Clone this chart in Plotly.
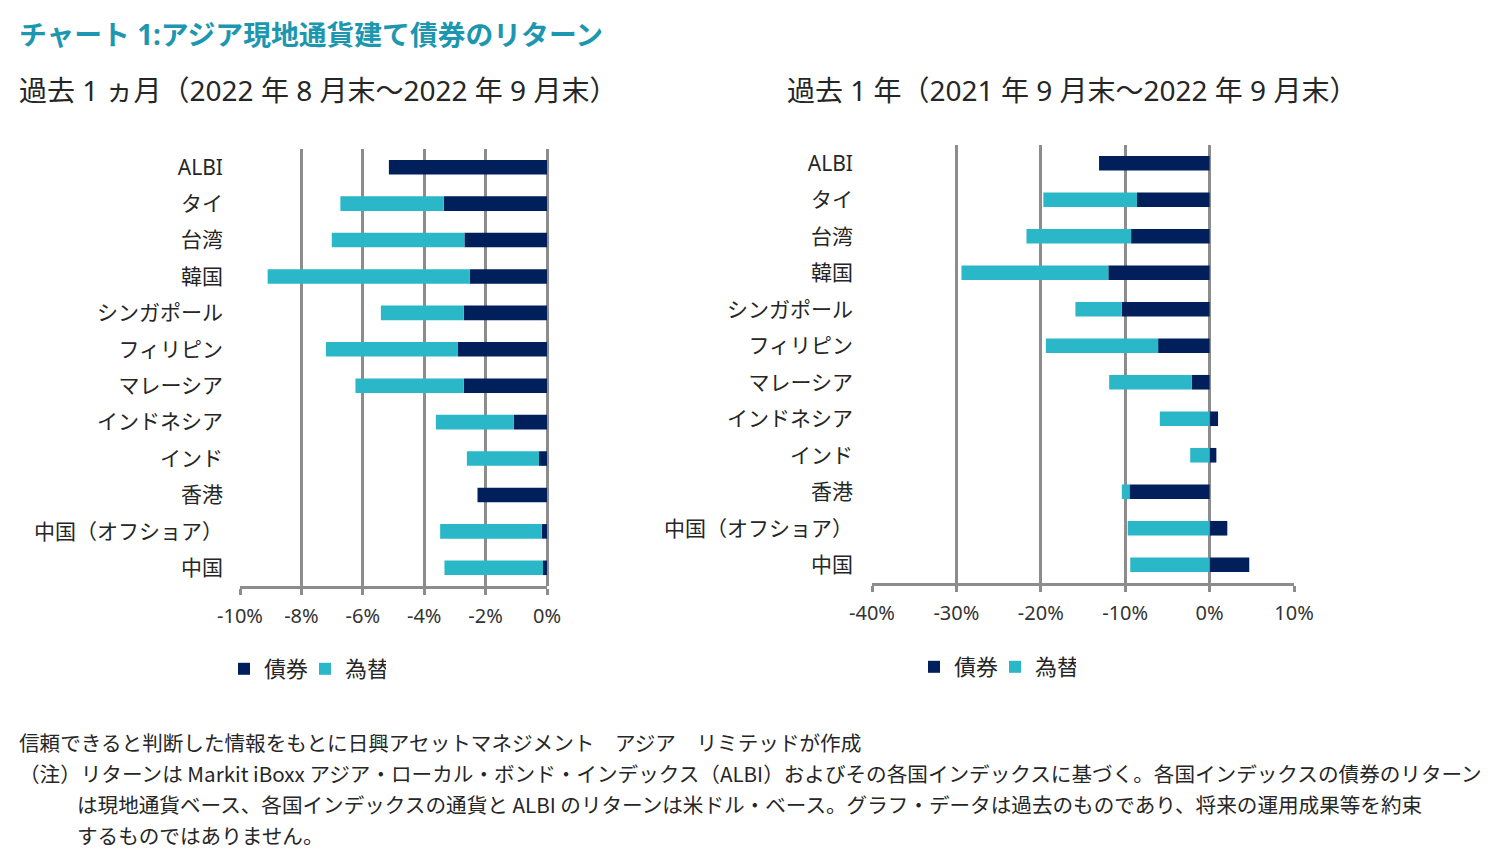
import plotly.graph_objects as go

W, H = 1509, 865

categories = ["ALBI", "タイ", "台湾", "韓国", "シンガポール", "フィリピン", "マレーシア",
              "インドネシア", "インド", "香港", "中国（オフショア）", "中国"]

# 過去1ヵ月 (%)
m1_bond = [-5.15, -3.36, -2.69, -2.52, -2.71, -2.90, -2.71, -1.08, -0.26, -2.25, -0.17, -0.13]
m1_fx = [0.0, -3.37, -4.32, -6.58, -2.70, -4.30, -3.53, -2.54, -2.35, -0.03, -3.31, -3.21]

# 過去1年 (%)
y1_bond = [-13.1, -8.6, -9.3, -12.0, -10.4, -6.1, -2.1, 1.0, 0.8, -9.5, 2.1, 4.7]
y1_fx = [0.0, -11.1, -12.4, -17.4, -5.5, -13.3, -9.8, -5.9, -2.3, -0.9, -9.7, -9.4]

m1_ticks = [-10, -8, -6, -4, -2, 0]
y1_ticks = [-40, -30, -20, -10, 0, 10]

BOND = "#011f5b"
FX = "#2ab7c8"
GRID = "#8c8c8c"
TEAL = "#1d97b0"
JP = "Noto Sans CJK JP"
LAT = "Noto Sans, Noto Sans CJK JP"
TXT = "#262626"

# plot-area positions in pixels
L = dict(x0=240, x1=547, y0=149, y1=586)
R = dict(x0=872, x1=1294, y0=145, y1=583)

def xd(p):
    return [p["x0"] / W, p["x1"] / W]

def yd(p):
    return [(H - p["y1"]) / H, (H - p["y0"]) / H]

fig = go.Figure()

fig.add_trace(go.Bar(y=categories, x=m1_bond, orientation="h", name="債券",
                     marker=dict(color=BOND, line=dict(width=0)),
                     xaxis="x", yaxis="y", legend="legend"))
fig.add_trace(go.Bar(y=categories, x=m1_fx, orientation="h", name="為替",
                     marker=dict(color=FX, line=dict(width=0)),
                     xaxis="x", yaxis="y", legend="legend"))
fig.add_trace(go.Bar(y=categories, x=y1_bond, orientation="h", name="債券",
                     marker=dict(color=BOND, line=dict(width=0)),
                     xaxis="x2", yaxis="y2", legend="legend2"))
fig.add_trace(go.Bar(y=categories, x=y1_fx, orientation="h", name="為替",
                     marker=dict(color=FX, line=dict(width=0)),
                     xaxis="x2", yaxis="y2", legend="legend2"))

n = len(categories)
bounds = [i - 0.5 for i in range(n)]

def xaxis(p, ticks, rng):
    return dict(domain=xd(p), range=rng, tickvals=ticks,
                ticktext=[f"{t}%" for t in ticks], automargin=False,
                showgrid=True, gridcolor=GRID, gridwidth=3,
                zeroline=True, zerolinecolor=GRID, zerolinewidth=3,
                showline=True, linecolor=GRID, linewidth=3,
                ticks="outside", ticklen=6, tickwidth=3, tickcolor=GRID,
                ticklabelstandoff=4,
                tickfont=dict(family="Noto Sans", size=20, color="#333333"),
                fixedrange=True)

def yaxis(p, anchor, standoff):
    return dict(domain=yd(p), anchor=anchor, type="category", automargin=False,
                categoryorder="array", categoryarray=categories,
                range=[n - 0.5, -0.5], showgrid=False, zeroline=False,
                showline=False, ticks="", ticklabelstandoff=standoff,
                tickfont=dict(family=LAT, size=21, color=TXT), fixedrange=True)

def tickaxis(p, overlay, pos):
    return dict(domain=yd(p), overlaying=overlay, anchor="free", position=pos,
                range=[n - 0.5, -0.5], tickvals=bounds, showticklabels=False,
                automargin=False, ticks="outside", ticklen=5, tickwidth=3,
                tickcolor=GRID, showgrid=False, zeroline=False, showline=False)

def zero_pos(p, rng):
    f = (0 - rng[0]) / (rng[1] - rng[0])
    return (p["x0"] + f * (p["x1"] - p["x0"])) / W

m1_rng = [-10, 0]
y1_rng = [-40, 10]

legend_common = dict(orientation="h", xanchor="left", yanchor="middle",
                     font=dict(family=JP, size=22, color=TXT),
                     itemwidth=30, entrywidth=36, bgcolor="rgba(0,0,0,0)")

fig.update_layout(
    template="none",
    width=W, height=H, margin=dict(l=0, r=0, t=0, b=0, autoexpand=False),
    paper_bgcolor="white", plot_bgcolor="white",
    barmode="relative", bargap=0.6,
    font=dict(family=JP, color=TXT),
    xaxis=xaxis(L, m1_ticks, m1_rng),
    yaxis=yaxis(L, "x", 16),
    xaxis2=dict(xaxis(R, y1_ticks, y1_rng), anchor="y2"),
    yaxis2=yaxis(R, "x2", 18),
    yaxis3=tickaxis(L, "y", zero_pos(L, m1_rng)),
    yaxis4=tickaxis(R, "y2", zero_pos(R, y1_rng)),
    showlegend=True,
    legend=dict(legend_common, x=224 / W, y=(H - 669) / H),
    legend2=dict(legend_common, x=914 / W, y=(H - 667) / H),
)

def note(text, x, y, size, color=TXT, bold=False, family=JP):
    fig.add_annotation(text=f"<b>{text}</b>" if bold else text,
                       x=x / W, y=(H - y) / H, xref="paper", yref="paper",
                       xanchor="left", yanchor="middle", showarrow=False,
                       font=dict(family=family, size=size, color=color))

note("チャート 1:アジア現地通貨建て債券のリターン", 17, 34, 27.8, TEAL, bold=True, family=LAT)
note("過去 1 ヵ月（2022 年 8 月末～2022 年 9 月末）", 17, 90, 28, family=LAT)
note("過去 1 年（2021 年 9 月末～2022 年 9 月末）", 785, 90, 28, family=LAT)
note("信頼できると判断した情報をもとに日興アセットマネジメント　アジア　リミテッドが作成", 17, 742, 20.6)
note("（注）リターンは Markit iBoxx アジア・ローカル・ボンド・インデックス（ALBI）およびその各国インデックスに基づく。各国インデックスの債券のリターン", 17, 773, 20.6)
note("は現地通貨ベース、各国インデックスの通貨と ALBI のリターンは米ドル・ベース。グラフ・データは過去のものであり、将来の運用成果等を約束", 75, 804, 20.6)
note("するものではありません。", 75, 835, 20.6)

fig.write_html("out.html")
